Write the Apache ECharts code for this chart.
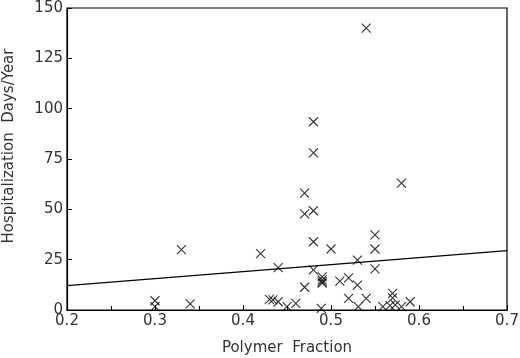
<!DOCTYPE html>
<html><head><meta charset="utf-8">
<script src="https://cdn.jsdelivr.net/npm/echarts@6/dist/echarts.min.js"></script>
<style>html,body{margin:0;padding:0;background:#fff}#c{width:520px;height:358px}</style>
</head><body><div id="c"></div>
<script>
var polymerFraction = [0.54,0.48,0.48,0.58,0.47,0.47,0.48,0.55,0.48,0.33,0.50,0.55,0.42,0.53,0.44,0.55,0.48,0.49,0.49,0.49,0.49,0.52,0.51,0.53,0.47,0.52,0.54,0.57,0.57,0.567,0.43,0.434,0.44,0.45,0.46,0.489,0.531,0.559,0.573,0.58,0.59,0.30,0.30,0.34];
var hospDays =        [140,93.5,78,63,58,47.7,49.3,37.3,33.9,30,30.3,30.3,28,24.8,21,20.4,19.9,16.5,15,14,13.3,16,14.3,12.4,11.3,5.8,5.8,8.3,6,2.2,5.3,5,4.1,1.7,3.3,0.8,1.7,1.7,2.5,1.7,4.1,4.6,1.7,3];
var fitX = [0.2, 0.7];
var fitY = [12.1, 29.5];
var xTicks = [0.2,0.3,0.4,0.5,0.6,0.7];
var yTicks = [0,25,50,75,100,125,150];

var pts = polymerFraction.map(function(x,i){return [x,hospDays[i]];});
var line = fitX.map(function(x,i){return [x,fitY[i]];});
var font = 'DejaVu Sans';
var txt = '#333';
var chart = echarts.init(document.getElementById('c'), null, {renderer:'canvas'});
chart.setOption({
  animation:false,
  backgroundColor:'#fff',
  grid:{left:67,right:13,top:8,bottom:48,containLabel:false,outerBoundsMode:'none',show:true,borderColor:'#000',borderWidth:1.2},
  xAxis:{type:'value',min:0.2,max:0.7,interval:0.1,
    name:'Polymer  Fraction',nameLocation:'middle',nameGap:31,
    nameTextStyle:{fontFamily:font,fontSize:15,color:txt},
    axisLine:{lineStyle:{color:'#000',width:1.2}},
    axisTick:{inside:true,length:5,lineStyle:{color:'#000'}},
    minorTick:{show:true,splitNumber:2,length:4,lineStyle:{color:'#000'}},
    splitLine:{show:false},
    axisLabel:{fontFamily:font,fontSize:15,color:txt,margin:4,
      formatter:function(v){return xTicks.indexOf(Math.round(v*10)/10)>=0?(Math.round(v*10)/10).toFixed(1):'';}}
  },
  yAxis:{type:'value',min:0,max:150,interval:25,
    name:'Hospitalization  Days/Year',nameLocation:'middle',nameGap:50,
    nameTextStyle:{fontFamily:font,fontSize:15,color:txt,padding:[0,0,0,26]},
    axisLine:{show:true,lineStyle:{color:'#000',width:1.2}},
    axisTick:{inside:true,length:5,lineStyle:{color:'#000'}},
    splitLine:{show:false},
    axisLabel:{fontFamily:font,fontSize:15,color:txt,margin:4,
      formatter:function(v){return yTicks.indexOf(v)>=0?String(v):'';}}
  },
  series:[
    {type:'scatter',data:pts,symbol:'path://M0,0L10,10M10,0L0,10',symbolSize:9,
     itemStyle:{color:'transparent',borderColor:'#000',borderWidth:1.1}},
    {type:'line',data:line,symbol:'none',lineStyle:{color:'#000',width:1.2}}
  ]
});
</script></body></html>
